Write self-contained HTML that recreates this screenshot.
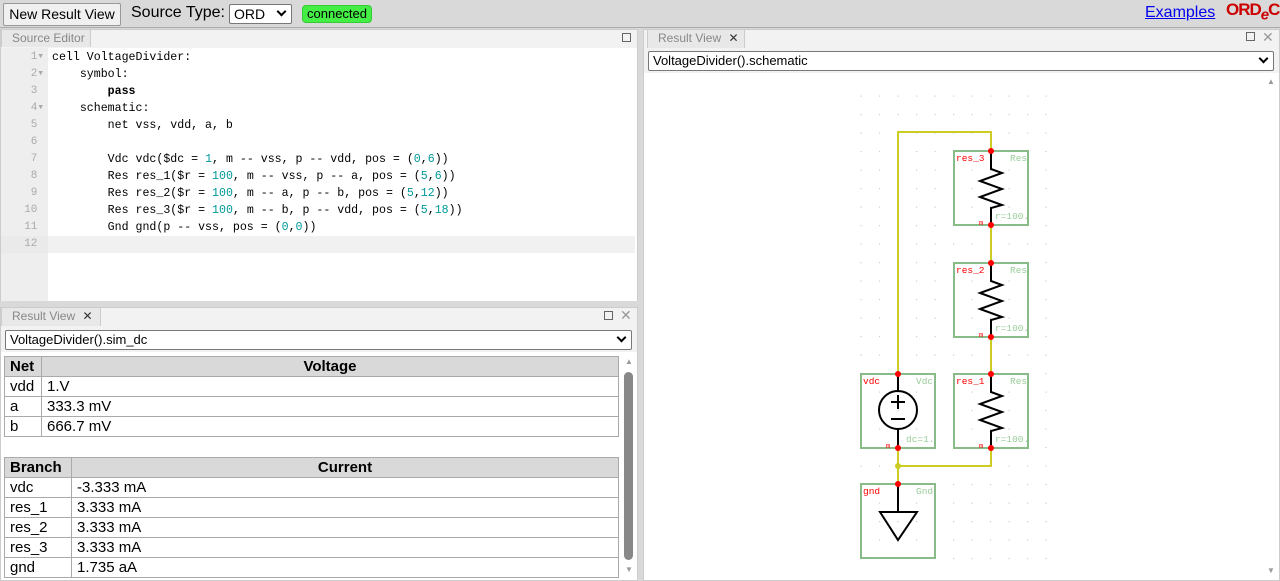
<!DOCTYPE html>
<html><head><meta charset="utf-8"><style>
*{box-sizing:border-box}
body{margin:0;width:1280px;height:581px;background:#d9d9d9;font-family:"Liberation Sans",sans-serif;position:relative;overflow:hidden}
.a{position:absolute}
.btn{left:3px;top:3px;width:118px;height:23px;border:1px solid #999;background:#f0f0f0;border-radius:2px;font-size:14px;line-height:21px;text-align:center}
.tab{background:#e8e8e8;border:1px solid #ccc;border-bottom:none;color:#888;font-size:12px;line-height:17px;padding-left:10px}
.code{font-family:"Liberation Mono",monospace;font-size:11.6px;line-height:17px;white-space:pre}
.n{color:#099}
table{border-collapse:collapse;font-size:15px;position:absolute;left:4px;width:615px}
td,th{border:1px solid #aaa;padding:0 5px;height:20px;line-height:18px;text-align:left;font-weight:normal}
th{background:#d9d9d9;font-weight:bold;text-align:center}
th:first-child{text-align:left}
.sel{background:#fff;border:1px solid #777;border-radius:2px;font-size:13px;line-height:18px;padding-left:4px}
.chev{position:absolute;right:6px;top:3px;width:7px;height:7px;border-right:2px solid #000;border-bottom:2px solid #000;transform:rotate(45deg)}
</style></head><body>
<div class="a btn">New Result View</div>
<div class="a" style="left:131px;top:4px;font-size:16px">Source Type:</div>
<div class="a" style="left:229px;top:4px;width:63px;height:20px;background:#fff;border:1px solid #777;border-radius:2px;font-size:14px;line-height:18px;padding-left:4px">ORD <span class="chev"></span></div>
<div class="a" style="left:302px;top:5px;width:70px;height:18px;background:#4e4;border:1px solid #3c3;border-radius:4px;font-size:13px;line-height:16px;text-align:center">connected</div>
<div class="a" style="left:1145px;top:4px;font-size:16px;color:#00e;text-decoration:underline">Examples</div>
<div class="a" style="left:1226px;top:0px;font-size:17px;font-weight:bold;color:#c00;letter-spacing:-1px">ORD<sub style="font-style:italic;font-size:15px">e</sub>C</div>
<div class="a" style="left:0;top:27px;width:1280px;height:1px;background:#aaa"></div>

<div class="a" style="left:0;top:29px;width:638px;height:272px;background:#f2f2f2;border:1px solid #ccc"></div>
<div class="a tab" style="left:1px;top:29px;width:90px;height:18px">Source Editor</div>
<div class="a" style="left:622px;top:33px;width:9px;height:9px;border:1px solid #666"></div>
<div class="a" style="left:1px;top:48px;width:636px;height:253px;background:#fff"></div>
<div class="a" style="left:1px;top:48px;width:47px;height:253px;background:#eee"></div>
<div class="a" style="left:1px;top:236px;width:634px;height:17px;background:#e8e8e8;opacity:.6"></div>
<div class="a code" style="left:4px;top:49px;width:40px;text-align:right;color:#aaa;font-size:11px;">1▾
2▾
3 
4▾
5 
6 
7 
8 
9 
10 
11 
12 </div>
<div class="a code" style="left:52px;top:49px">cell VoltageDivider:
    symbol:
        <b>pass</b>
    schematic:
        net vss, vdd, a, b

        Vdc vdc($dc = <span class="n">1</span>, m -- vss, p -- vdd, pos = (<span class="n">0</span>,<span class="n">6</span>))
        Res res_1($r = <span class="n">100</span>, m -- vss, p -- a, pos = (<span class="n">5</span>,<span class="n">6</span>))
        Res res_2($r = <span class="n">100</span>, m -- a, p -- b, pos = (<span class="n">5</span>,<span class="n">12</span>))
        Res res_3($r = <span class="n">100</span>, m -- b, p -- vdd, pos = (<span class="n">5</span>,<span class="n">18</span>))
        Gnd gnd(p -- vss, pos = (<span class="n">0</span>,<span class="n">0</span>))
</div>

<div class="a" style="left:0;top:307px;width:638px;height:274px;background:#f2f2f2;border:1px solid #ccc"></div>
<div class="a tab" style="left:1px;top:307px;width:100px;height:19px">Result View <span style="color:#333;margin-left:4px">✕</span></div>
<div class="a" style="left:604px;top:311px;width:9px;height:9px;border:1px solid #666"></div>
<div class="a" style="left:620px;top:307px;color:#999;font-size:14px">✕</div>
<div class="a sel" style="left:5px;top:330px;width:627px;height:20px">VoltageDivider().sim_dc<span class="chev"></span></div>
<div class="a" style="left:1px;top:352px;width:636px;height:228px;background:#fff"></div>
<table style="top:356px"><tr><th style="width:37px">Net</th><th>Voltage</th></tr>
<tr><td>vdd</td><td>1.V</td></tr><tr><td>a</td><td>333.3 mV</td></tr><tr><td>b</td><td>666.7 mV</td></tr></table>
<table style="top:457px"><tr><th style="width:67px">Branch</th><th>Current</th></tr>
<tr><td>vdc</td><td>-3.333 mA</td></tr><tr><td>res_1</td><td>3.333 mA</td></tr><tr><td>res_2</td><td>3.333 mA</td></tr><tr><td>res_3</td><td>3.333 mA</td></tr><tr><td>gnd</td><td>1.735 aA</td></tr></table>
<div class="a" style="left:624px;top:372px;width:9px;height:188px;background:#888;border-radius:5px"></div>
<div class="a" style="left:625px;top:357px;font-size:8px;color:#999">▲</div>
<div class="a" style="left:625px;top:565px;font-size:8px;color:#999">▼</div>

<div class="a" style="left:643px;top:29px;width:637px;height:552px;background:#f2f2f2;border:1px solid #ccc"></div>
<div class="a tab" style="left:647px;top:29px;width:98px;height:19px">Result View <span style="color:#333;margin-left:4px">✕</span></div>
<div class="a" style="left:1246px;top:32px;width:9px;height:9px;border:1px solid #666"></div>
<div class="a" style="left:1262px;top:29px;color:#999;font-size:14px">✕</div>
<div class="a sel" style="left:648px;top:51px;width:626px;height:20px">VoltageDivider().schematic<span class="chev"></span></div>
<div class="a" style="left:644px;top:73px;width:635px;height:507px;background:#fff"></div>
<div class="a" style="left:1267px;top:77px;font-size:8px;color:#999">▲</div>
<div class="a" style="left:1267px;top:566px;font-size:8px;color:#999">▼</div>

<svg class="a" style="left:0;top:0" width="1280" height="581" font-family="Liberation Mono, monospace" font-size="10">
<defs><pattern id="g" x="859.5" y="94.5" width="18.5" height="18.5" patternUnits="userSpaceOnUse"><rect x="1" y="1" width="1.2" height="1.2" fill="#ccc"/></pattern></defs>
<rect x="859" y="94" width="192" height="466" fill="url(#g)"/>
<g fill="none" stroke="#cc2" stroke-width="2">
<path d="M898 374V132H991V151M991 225V263M991 337V374M898 448V484M898 466H991V448"/>
</g>
<circle cx="898" cy="466" r="3" fill="#cc2"/>
<g fill="none" stroke="#8b8" stroke-width="2">
<rect x="954" y="151" width="74" height="74"/><rect x="954" y="263" width="74" height="74"/><rect x="954" y="374" width="74" height="74"/>
<rect x="861" y="374" width="74" height="74"/><rect x="861" y="484" width="74" height="74"/>
</g>
<g fill="none" stroke="#000" stroke-width="2">
<path d="M991 151V169L1002 173L980 181L1002 189L980 197L1002 205L991 208V225"/>
<path d="M991 263V281L1002 285L980 293L1002 301L980 309L1002 317L991 320V337"/>
<path d="M991 374V392L1002 396L980 404L1002 412L980 420L1002 428L991 431V448"/>
<path d="M898 374V391M898 429V448"/><circle cx="898" cy="410" r="19"/>
<path d="M891 402H905M898 395V409M891 419H905"/>
<path d="M898 484V512M880 512H917L898 540Z"/>
</g>
<g fill="red" font-size="9.5">
<circle cx="991" cy="151" r="3"/><circle cx="991" cy="225" r="3"/><circle cx="991" cy="263" r="3"/><circle cx="991" cy="337" r="3"/>
<circle cx="991" cy="374" r="3"/><circle cx="991" cy="448" r="3"/><circle cx="898" cy="374" r="3"/><circle cx="898" cy="448" r="3"/><circle cx="898" cy="484" r="3"/>
<text x="956" y="161">res_3</text><text x="956" y="273">res_2</text><text x="956" y="384">res_1</text>
<text x="863" y="384">vdc</text><text x="863" y="494">gnd</text>
<text x="979" y="225" font-size="7">m</text><text x="979" y="337" font-size="7">m</text><text x="979" y="448" font-size="7">m</text><text x="886" y="448" font-size="7">m</text>
</g>
<g fill="#9c9" font-size="9.5">
<text x="1010" y="161">Res</text><text x="1010" y="273">Res</text><text x="1010" y="384">Res</text>
<text x="916" y="384">Vdc</text><text x="916" y="494">Gnd</text>
<text x="995" y="219">r=100.</text><text x="995" y="331">r=100.</text><text x="995" y="442">r=100.</text><text x="906" y="442">dc=1.</text>
</g>
</svg>
</body></html>
